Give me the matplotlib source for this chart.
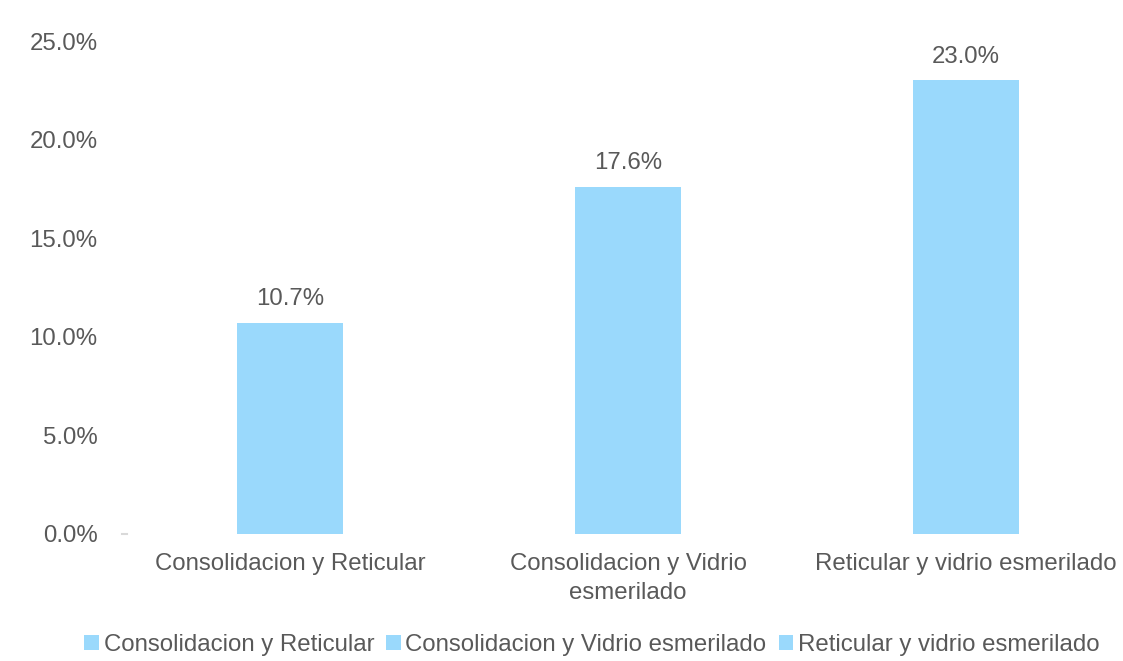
import matplotlib
matplotlib.use("Agg")
import matplotlib.pyplot as plt
from matplotlib.ticker import FuncFormatter

categories = ["Consolidacion y Reticular", "Consolidacion y Vidrio esmerilado", "Reticular y vidrio esmerilado"]
tick_labels = ["Consolidacion y Reticular", "Consolidacion y Vidrio\nesmerilado", "Reticular y vidrio esmerilado"]
values = [0.107, 0.176, 0.230]
bar_color = "#9AD9FC"
text_color = "#595959"

plt.rcParams['font.family'] = ['Liberation Sans', 'DejaVu Sans']

fig = plt.figure(figsize=(11.23, 6.61), dpi=100)
W, H = 1123, 661
left_px, right_px = 121, 1123
ax = fig.add_axes([left_px / W, (H - 534) / H, (right_px - left_px) / W, (534 - 41) / H])

FS = 17.3
bars = []
for i, (c, v) in enumerate(zip(categories, values)):
    b = ax.bar(i, v, width=0.314, color=bar_color, label=c)
    bars.append(b)
    ax.annotate(f"{v*100:.1f}%", (i, v), xytext=(0, 9), textcoords="offset points",
                ha="center", va="bottom", fontsize=FS, color=text_color)

ax.set_xlim(-0.5, -0.5 + (right_px - left_px) / 338)
ax.set_ylim(0, 0.25)
ax.set_yticks([0, 0.05, 0.10, 0.15, 0.20, 0.25])
ax.yaxis.set_major_formatter(FuncFormatter(lambda v, p: f"{v*100:.1f}%"))
ax.set_xticks(range(len(categories)))
ax.set_xticklabels(tick_labels, fontsize=FS, color=text_color, linespacing=1.4)
ax.tick_params(axis='y', labelsize=FS, labelcolor=text_color, length=0, pad=17)
ax.tick_params(axis='x', length=0, pad=14)
for s in ax.spines.values():
    s.set_visible(False)

# faint tick dash at the baseline
ax.plot([0.001, 0.006], [0, 0], transform=ax.get_yaxis_transform(), color="#D9D9D9",
        lw=1.5, clip_on=False)

fig.legend(handles=[b[0] for b in bars], labels=categories, loc="center",
           bbox_to_anchor=(0.527, (H - 645) / H), ncol=3, frameon=False,
           fontsize=FS, labelcolor=text_color, handlelength=0.6, handleheight=0.6,
           handletextpad=0.2, columnspacing=0.5)

fig.savefig("out.png", dpi=100)
